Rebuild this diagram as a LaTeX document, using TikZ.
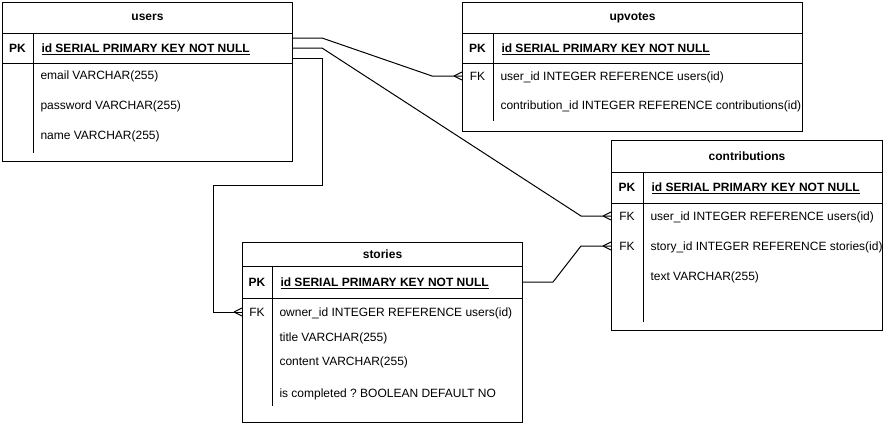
\documentclass[tikz,border=0pt]{standalone}
\usepackage{fontspec}
\setmainfont{Liberation Sans}
\frenchspacing
\usetikzlibrary{positioning}
\tikzset{
  tbl/.style={draw, line width=1pt, anchor=north west, inner sep=0pt},
  ttl/.style={font=\fontsize{12}{14}\selectfont\bfseries, inner sep=0pt},
  keycell/.style={minimum width=30pt, minimum height=29pt, inner sep=0pt},
  fld/.style={anchor=west, inner sep=0pt, yshift=-1pt},
  conn/.style={line width=1pt},
  crowfoot/.pic={\draw[line width=1pt] (-8,0) -- (0,4) (-8,0) -- (0,-4);}
}

\begin{document}
\begin{tikzpicture}[x=1pt, y=-1pt, font=\fontsize{12}{14}\selectfont, line width=1pt]
  \useasboundingbox (0,0) rectangle (883,423);

  % users
  \node[tbl, minimum width=290pt, minimum height=159pt] (users) at (2,2) {};
  \node[ttl, minimum width=290pt, minimum height=30pt, below=0pt of users.north] (users-t) {users};
  \node[keycell, below right=0pt of users-t.south west] (users-pk) {\bfseries PK};
  \node[fld, right=8pt of users-pk] (users-id) {\bfseries\underline{id SERIAL PRIMARY KEY NOT NULL}};
  \node[fld] (users-email) at (40,75) {email VARCHAR(255)};
  \node[fld] (users-pw) at (40,105) {password VARCHAR(255)};
  \node[fld] (users-name) at (40,135) {name VARCHAR(255)};
  \draw (users-t.south west) -- (users-t.south east);
  \draw (users-pk.south west) -- (users-pk.south west -| users.east);
  \draw (users-pk.north east) -- ++(0,120);

  % upvotes
  \node[tbl, minimum width=340pt, minimum height=129pt] (upvotes) at (462,2) {};
  \node[ttl, minimum width=340pt, minimum height=30pt, below=0pt of upvotes.north] (uv-t) {upvotes};
  \node[keycell, below right=0pt of uv-t.south west] (uv-pk) {\bfseries PK};
  \node[fld, right=8pt of uv-pk] (uv-id) {\bfseries\underline{id SERIAL PRIMARY KEY NOT NULL}};
  \node[keycell, anchor=west] (uv-fk) at (462,76) {FK};
  \node[fld] (uv-user) at (500,76) {user\_id INTEGER REFERENCE users(id)};
  \node[fld] (uv-contr) at (500,105) {contribution\_id INTEGER REFERENCE contributions(id)};
  \draw (uv-t.south west) -- (uv-t.south east);
  \draw (uv-pk.south west) -- (uv-pk.south west -| upvotes.east);
  \draw (uv-pk.north east) -- ++(0,88);

  % contributions
  \node[tbl, minimum width=271pt, minimum height=190pt] (contributions) at (611,140) {};
  \node[ttl, minimum width=271pt, minimum height=31pt, below=0pt of contributions.north] (co-t) {contributions};
  \node[keycell, minimum width=31pt, minimum height=30pt, below right=0pt of co-t.south west] (co-pk) {\bfseries PK};
  \node[fld, right=8pt of co-pk] (co-id) {\bfseries\underline{id SERIAL PRIMARY KEY NOT NULL}};
  \node[keycell, minimum width=31pt, anchor=west] (co-fk1) at (611,216) {FK};
  \node[fld] (co-user) at (650,216) {user\_id INTEGER REFERENCE users(id)};
  \node[keycell, minimum width=31pt, anchor=west] (co-fk2) at (611,246) {FK};
  \node[fld] (co-story) at (650,246) {story\_id INTEGER REFERENCE stories(id)};
  \node[fld] (co-text) at (650,276) {text VARCHAR(255)};
  \draw (co-t.south west) -- (co-t.south east);
  \draw (co-pk.south west) -- (co-pk.south west -| contributions.east);
  \draw (co-pk.north east) -- ++(0,150);

  % stories
  \node[tbl, minimum width=280pt, minimum height=180pt] (stories) at (242,242) {};
  \node[ttl, minimum width=280pt, minimum height=23pt, below=0pt of stories.north] (st-t) {stories};
  \node[keycell, minimum width=29pt, minimum height=31pt, below right=0pt of st-t.south west] (st-pk) {\bfseries PK};
  \node[fld, right=8pt of st-pk] (st-id) {\bfseries\underline{id SERIAL PRIMARY KEY NOT NULL}};
  \node[keycell, minimum width=29pt, anchor=west] (st-fk) at (242,312) {FK};
  \node[fld] (st-owner) at (279,312) {owner\_id INTEGER REFERENCE users(id)};
  \node[fld] (st-title) at (279,337) {title VARCHAR(255)};
  \node[fld] (st-content) at (279,361) {content VARCHAR(255)};
  \node[fld] (st-done) at (279,393) {is completed ? BOOLEAN DEFAULT NO};
  \draw (st-t.south west) -- (st-t.south east);
  \draw (st-pk.south west) -- (st-pk.south west -| stories.east);
  \draw (st-pk.north east) -- ++(0,140);

  % relations
  \draw[conn] ([yshift=10pt]users.east |- users-pk) -- ++(29,0) -- ([xshift=-30pt]uv-fk.west) -- (uv-fk.west);
  \draw[conn] (users.east |- users-pk) -- ++(29,0) -- ([xshift=-30pt]co-fk1.west) -- (co-fk1.west);
  \draw[conn] ([yshift=-10pt]users.east |- users-pk) -- ++(29,0) -- ++(0,127) -- ++(-109,0) |- (st-fk.west);
  \draw[conn] (stories.east |- st-pk) -- ++(30,0) -- ([xshift=-30pt]co-fk2.west) -- (co-fk2.west);
  \pic at (uv-fk.west) {crowfoot};
  \pic at (co-fk1.west) {crowfoot};
  \pic at (co-fk2.west) {crowfoot};
  \pic at (st-fk.west) {crowfoot};
\end{tikzpicture}
\end{document}
